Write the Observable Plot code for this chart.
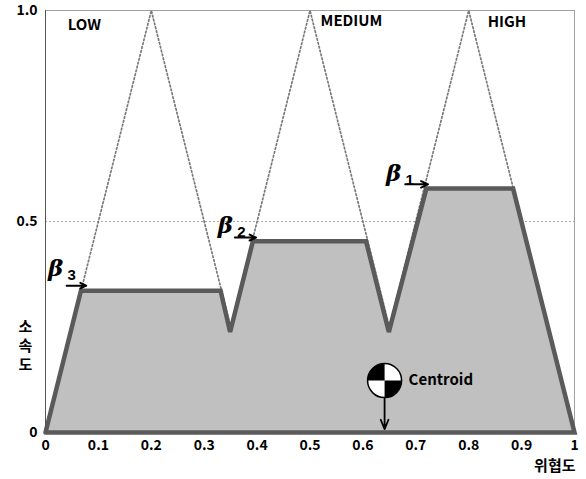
<!DOCTYPE html>
<html><head><meta charset="utf-8">
<script src="https://cdn.jsdelivr.net/npm/d3@7"></script>
<script src="https://cdn.jsdelivr.net/npm/@observablehq/plot@0.6"></script>
<style>body{margin:0;background:#fff}</style>
</head><body><div id="chart"></div>
<script>
// fuzzy sets (triangles)
const setNames = ["LOW", "MEDIUM", "HIGH"];
const setStart = [0.0, 0.3, 0.6];
const setPeak = [0.2, 0.5, 0.8];
const setEnd = [0.4, 0.7, 1.0];
const setLabelX = [0.042, 0.52, 0.836];
const setLabelY = [0.965, 0.975, 0.972];
// aggregated output polygon
const aggX = [0, 0.067, 0.331, 0.349, 0.392, 0.606, 0.649, 0.72, 0.884, 1, 0];
const aggY = [0, 0.336, 0.336, 0.238, 0.453, 0.453, 0.238, 0.578, 0.578, 0, 0];
// beta labels
const betaSub = ["3", "2", "1"];
const betaX = [0.019, 0.34, 0.658];
const betaY = [0.389, 0.491, 0.614];
const arrowX1 = [0.04, 0.358, 0.68];
const arrowX2 = [0.077, 0.398, 0.723];
const arrowY = [0.348, 0.462, 0.588];
// centroid
const centroidX = 0.641;
const centroidY = 0.123;
// ticks
const xTicks = [0, 0.1, 0.2, 0.3, 0.4, 0.5, 0.6, 0.7, 0.8, 0.9, 1];
const yTicks = [0, 0.5, 1];
const yTickLabels = ["0", "0.5", "1.0"];
const yTitle = ["소", "속", "도"];
const yTitleY = [0.250, 0.205, 0.160];

const tri = setNames.flatMap((n, i) => [
  {set: n, x: setStart[i], y: 0},
  {set: n, x: setPeak[i], y: 1},
  {set: n, x: setEnd[i], y: 0}
]);
const agg = aggX.map((x, i) => ({x, y: aggY[i]}));
const labels = setNames.map((n, i) => ({n, x: setLabelX[i], y: setLabelY[i]}));
const betas = betaSub.map((s, i) => ({s, x: betaX[i], y: betaY[i], x1: arrowX1[i], x2: arrowX2[i], ya: arrowY[i]}));
const ytitle = yTitle.map((t, i) => ({t, x: 0, y: yTitleY[i]}));

const quarters = {
  draw(ctx, size) {
    const r = Math.sqrt(size / Math.PI);
    ctx.moveTo(0, 0); ctx.arc(0, 0, r, Math.PI, 1.5 * Math.PI); ctx.closePath();
    ctx.moveTo(0, 0); ctx.arc(0, 0, r, 0, 0.5 * Math.PI); ctx.closePath();
  }
};

const font = "'Noto Sans CJK KR', 'Open Sans', sans-serif";
const chart = Plot.plot({
  width: 586, height: 479,
  marginLeft: 45, marginRight: 12, marginTop: 10, marginBottom: 47,
  x: {domain: [0, 1]},
  y: {domain: [0, 1]},
  style: {fontFamily: font, fontWeight: "bold", fontSize: "14px", color: "#000", background: "#fff"},
  marks: [
    Plot.frame({stroke: "#a0a0a0"}),
    Plot.ruleY([0.5], {stroke: "#a8a8a8", strokeDasharray: "2,2"}),
    Plot.line(tri, {x: "x", y: "y", z: "set", stroke: "#7a7a7a", strokeWidth: 1.7, strokeDasharray: "1.7,2.3"}),
    Plot.line(agg, {x: "x", y: "y", fill: "#c0c0c0", stroke: "#5a5a5a", strokeWidth: 4.5, strokeLinejoin: "miter", strokeMiterlimit: 3}),
    Plot.ruleX([0], {stroke: "#555"}),
    Plot.axisX({ticks: xTicks, tickSize: 0, tickPadding: 8, tickFormat: d => d === 0 ? "0" : d === 1 ? "1" : d.toFixed(1), fontSize: 14, fontWeight: "bold", label: null}),
    Plot.axisY({ticks: yTicks, tickSize: 0, tickPadding: 8, tickFormat: (d, i) => yTickLabels[yTicks.indexOf(d)], fontSize: 14, fontWeight: "bold", label: null}),
    Plot.text(labels, {x: "x", y: "y", text: "n", textAnchor: "start", fontSize: 15, fontWeight: "bold", fill: "#000"}),
    Plot.text(betas, {x: "x", y: "y", text: () => "β", fontFamily: "'DejaVu Serif', serif", fontStyle: "italic", fontWeight: "bold", fontSize: 23, fill: "#000"}),
    Plot.text(betas, {x: "x", y: "y", text: "s", dx: 16, dy: 7, fontFamily: "'Liberation Sans', sans-serif", fontSize: 15, fontWeight: "bold", fill: "#000"}),
    Plot.arrow(betas, {x1: "x1", x2: "x2", y1: "ya", y2: "ya", stroke: "#000", strokeWidth: 2, headLength: 8, headAngle: 50}),
    Plot.arrow([{x: centroidX}], {x1: "x", x2: "x", y1: 0.08, y2: 0.008, stroke: "#000", strokeWidth: 1.8, headLength: 9, headAngle: 45}),
    Plot.dot([{x: centroidX, y: centroidY}], {x: "x", y: "y", r: 17, fill: "#fff", stroke: "#000", strokeWidth: 1.5}),
    Plot.dot([{x: centroidX, y: centroidY}], {x: "x", y: "y", r: 17, symbol: quarters, fill: "#000", stroke: "none"}),
    Plot.text([{x: centroidX, y: centroidY}], {x: "x", y: "y", text: () => "Centroid", dx: 24, textAnchor: "start", fontSize: 15, fontWeight: "bold", fill: "#000"}),
    Plot.text([{x: 1, y: 0}], {x: "x", y: "y", text: () => "위협도", textAnchor: "end", dy: 34, dx: 1, fontSize: 15, fontWeight: "bold", fill: "#000"}),
    Plot.text(ytitle, {x: "x", y: "y", text: "t", dx: -20, fontSize: 15, fontWeight: "bold", fill: "#000"})
  ]
});
document.getElementById("chart").append(chart);
</script></body></html>
